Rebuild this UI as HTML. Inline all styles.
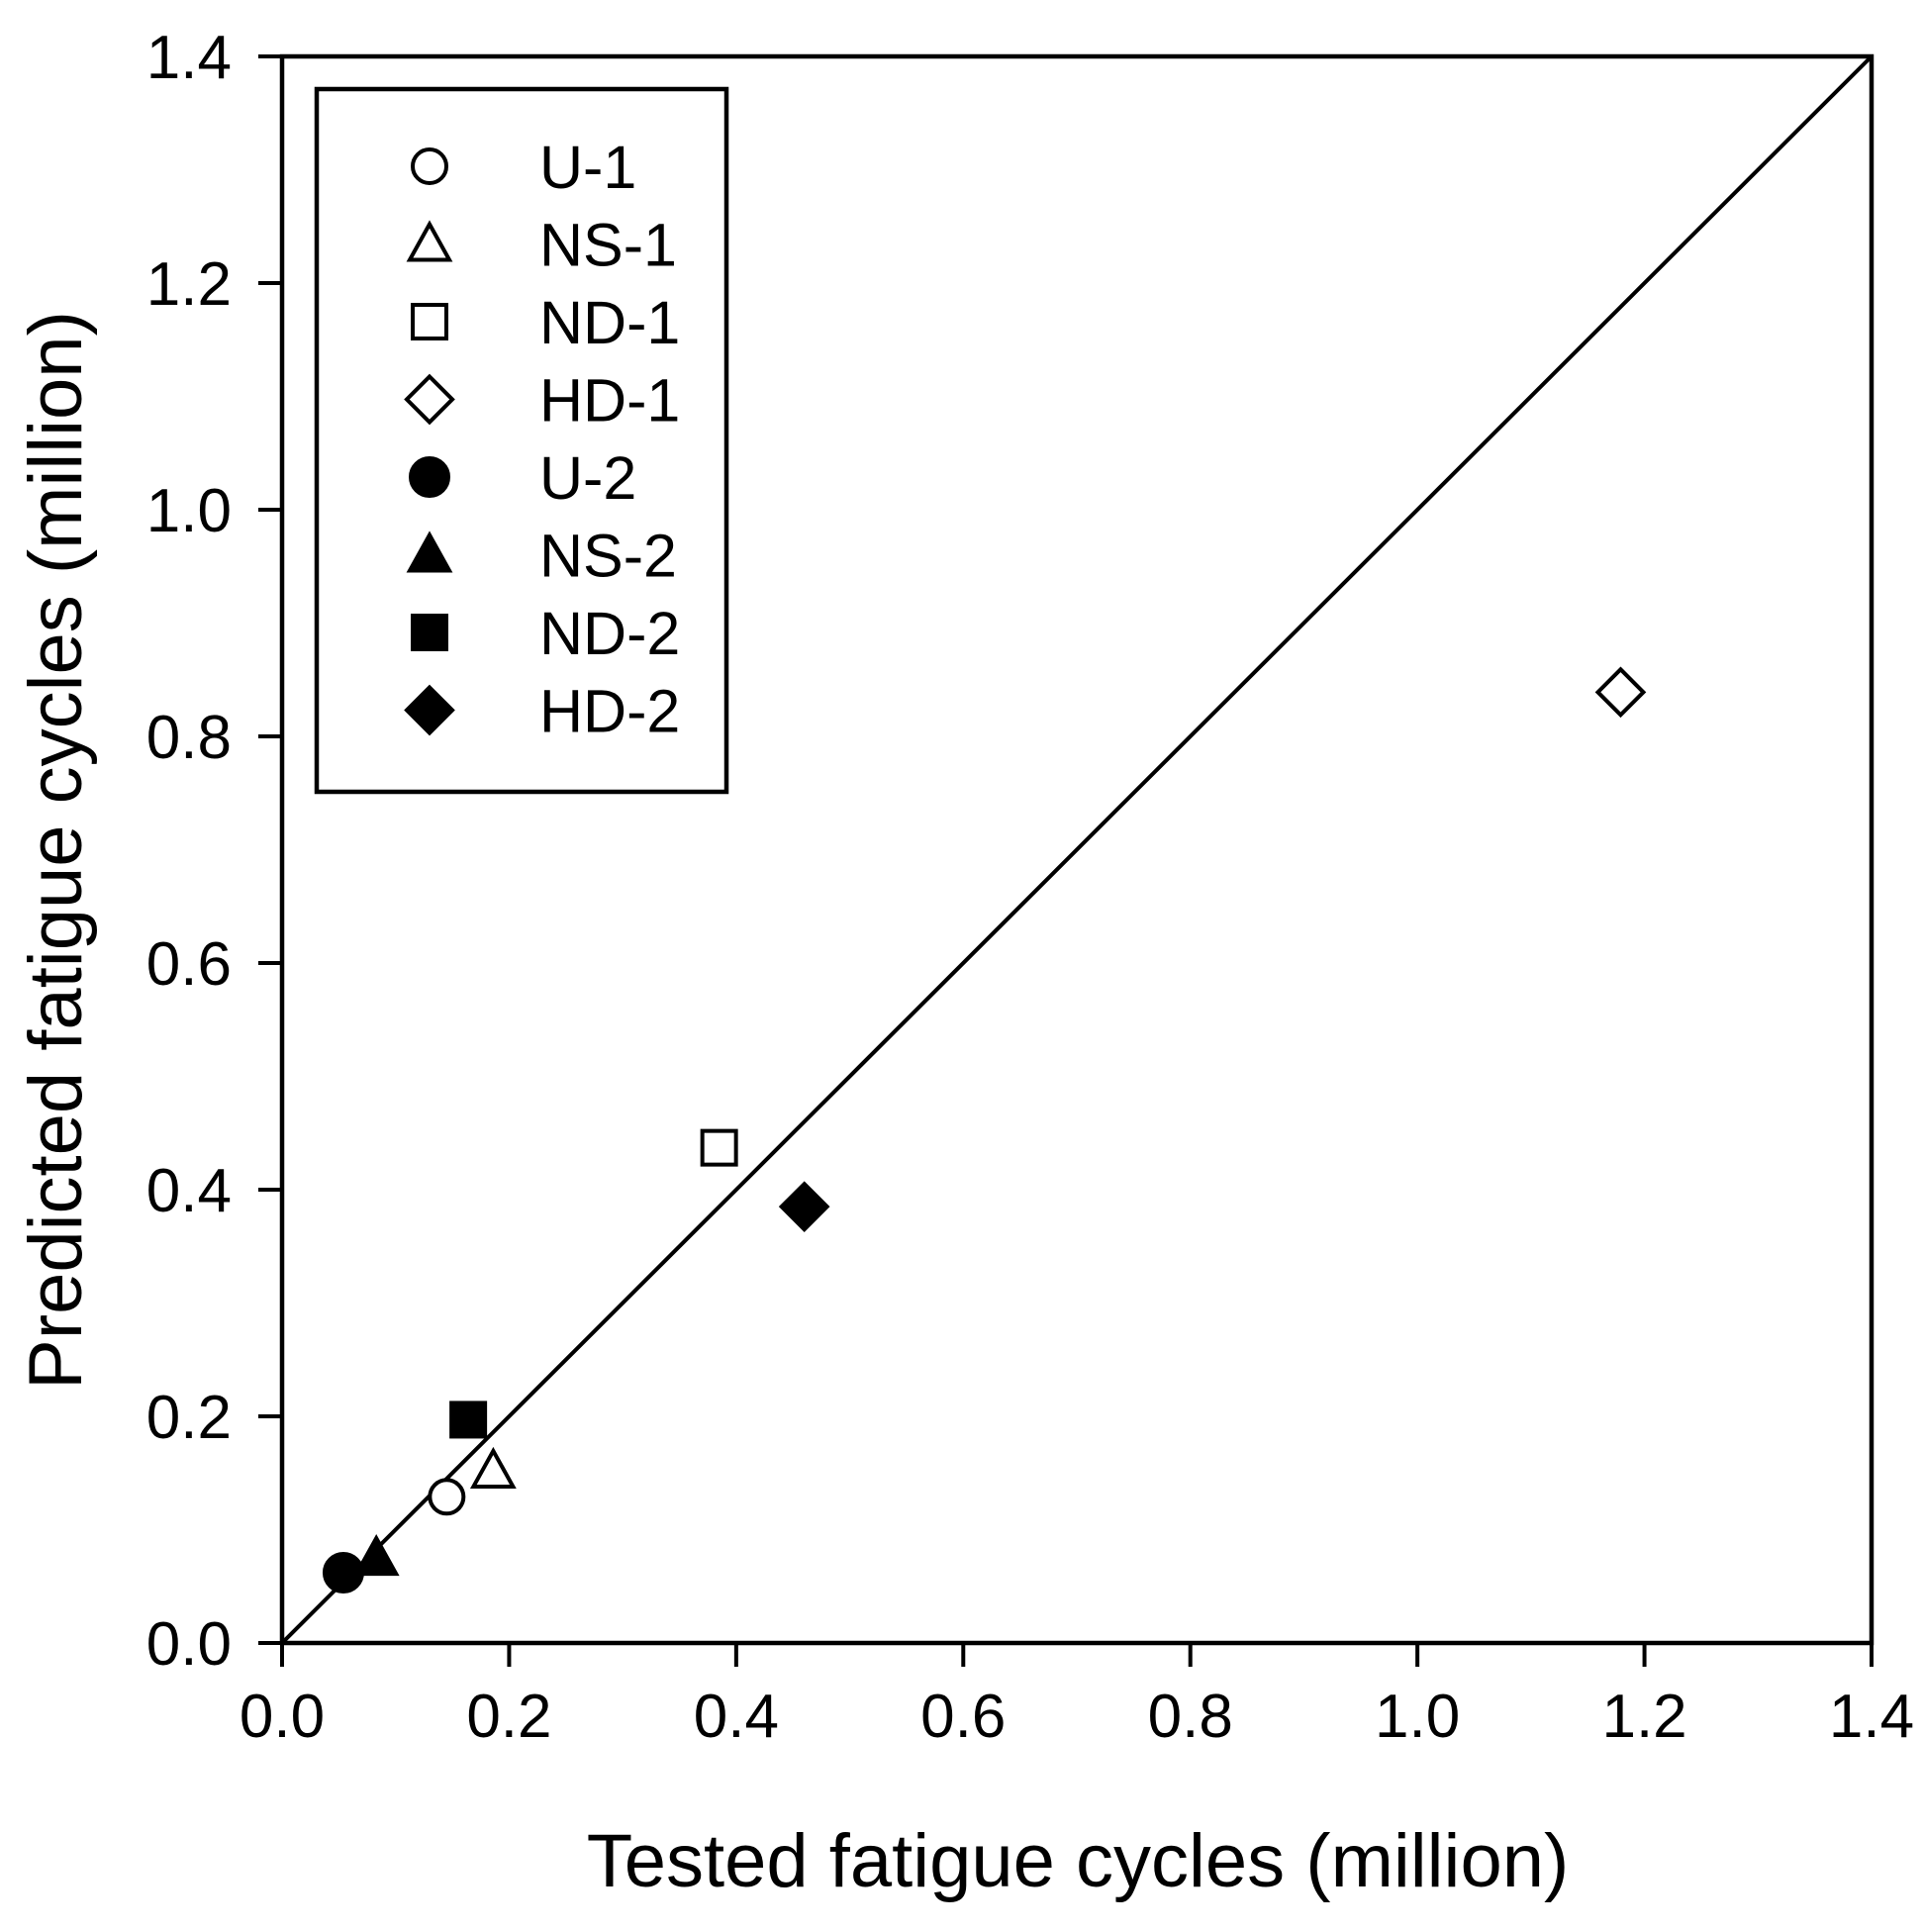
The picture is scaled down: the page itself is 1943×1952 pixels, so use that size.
<!DOCTYPE html>
<html><head><meta charset="utf-8"><style>
html,body{margin:0;padding:0;background:#fff;}
svg text{font-family:"Liberation Sans",Arial,sans-serif;fill:#000;}
</style></head><body>
<svg id="chart" width="1943" height="1947" viewBox="0 0 1943 1947" xmlns="http://www.w3.org/2000/svg"></svg>
<script>
const xTicks = [0.0, 0.2, 0.4, 0.6, 0.8, 1.0, 1.2, 1.4];
const yTicks = [0.0, 0.2, 0.4, 0.6, 0.8, 1.0, 1.2, 1.4];
const tickLabels = ["0.0","0.2","0.4","0.6","0.8","1.0","1.2","1.4"];
const seriesNames = ["U-1","NS-1","ND-1","HD-1","U-2","NS-2","ND-2","HD-2"];
const testedValues = [0.145, 0.186, 0.385, 1.179, 0.054, 0.083, 0.164, 0.460];
const predictedValues = [0.129, 0.152, 0.437, 0.839, 0.062, 0.075, 0.197, 0.385];
const markerShapes = ["circle","triangle","square","diamond","circle","triangle","square","diamond"];
const markerFilled = [false,false,false,false,true,true,true,true];

const NS="http://www.w3.org/2000/svg";
const svg=document.getElementById('chart');
const L=285,R=1891,T=57,B=1660;
const xS=v=>L+(v-0)/(1.4)*(R-L);
const yS=v=>B-(v-0)/(1.4)*(B-T);
function mk(tag,attrs,parent){const e=document.createElementNS(NS,tag);for(const k in attrs)e.setAttribute(k,attrs[k]);(parent||svg).appendChild(e);return e;}

const frame=mk('rect',{x:L,y:T,width:R-L,height:B-T,fill:'none',stroke:'#000','stroke-width':4.5});



xTicks.forEach((v,i)=>{
  const t=mk('line',{x1:xS(v),x2:xS(v),y1:B,y2:B+24,stroke:'#000','stroke-width':4});
  
  
  const tx=mk('text',{x:xS(v),y:B+95,'font-size':62,'text-anchor':'middle'});
  tx.textContent=tickLabels[i];
  
  
});
yTicks.forEach((v,i)=>{
  const t=mk('line',{x1:L-24,x2:L,y1:yS(v),y2:yS(v),stroke:'#000','stroke-width':4});
  
  
  const tx=mk('text',{x:L-51,y:yS(v)+22,'font-size':62,'text-anchor':'end'});
  tx.textContent=tickLabels[i];
  
  
});

const ref=mk('line',{x1:xS(0),y1:yS(0),x2:xS(1.4),y2:yS(1.4),stroke:'#000','stroke-width':4});



function marker(shape,filled,cx,cy,parent){
  const fill=filled?'#000':'#fff';
  const st={fill:fill,stroke:'#000','stroke-width':4};
  let e;
  if(shape==='circle'){e=mk('circle',Object.assign({cx:cx,cy:cy,r:filled?19:17},st),parent);}
  else if(shape==='square'){e=mk('rect',Object.assign({x:cx-17,y:cy-17,width:34,height:34},st),parent);}
  else if(shape==='diamond'){e=mk('polygon',Object.assign({points:`${cx},${cy-23} ${cx+23},${cy} ${cx},${cy+23} ${cx-23},${cy}`},st),parent);}
  else {e=mk('polygon',Object.assign({points:`${cx},${cy-20} ${cx+20},${cy+16} ${cx-20},${cy+16}`},st),parent);}
  return e;
}

testedValues.forEach((v,i)=>{
  const m=marker(markerShapes[i],markerFilled[i],xS(v),yS(predictedValues[i]));
  
  
});

const lg=mk('g',{});


mk('rect',{x:320,y:90,width:414,height:710,fill:'#fff',stroke:'#000','stroke-width':4.5},lg);
seriesNames.forEach((n,i)=>{
  const cy=168+i*78.5;
  const m=marker(markerShapes[i],markerFilled[i],434,cy,lg);
  
  
  const t=mk('text',{x:545,y:cy+22,'font-size':61},lg);
  t.textContent=n;
  
  
});

const xt=mk('text',{x:1089,y:1906,'font-size':76,'text-anchor':'middle'});
xt.textContent='Tested fatigue cycles (million)';


const yt=mk('text',{x:0,y:0,'font-size':76,'text-anchor':'middle',transform:'translate(82,859) rotate(-90)'});
yt.textContent='Predicted fatigue cycles (million)';


</script>
</body></html>
